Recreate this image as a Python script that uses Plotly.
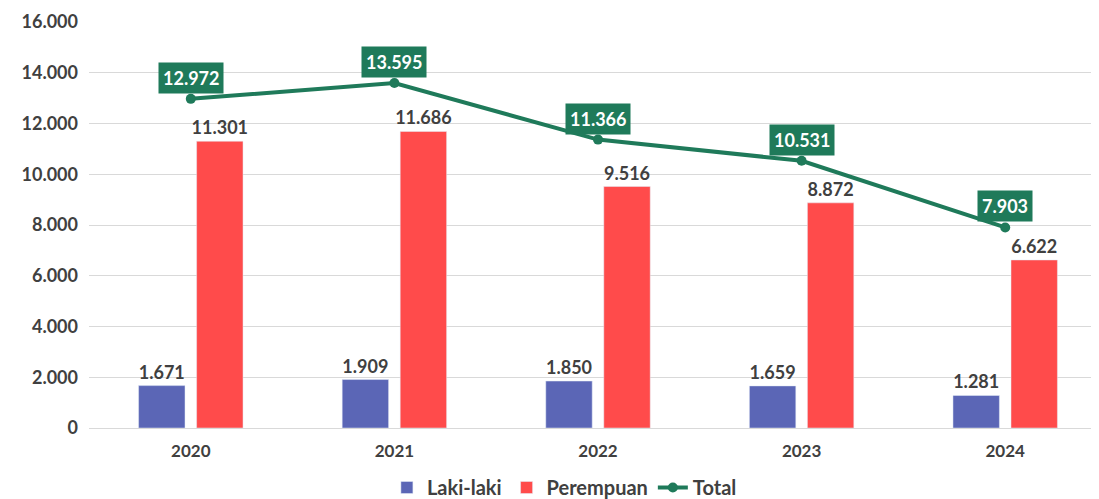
import plotly.graph_objects as go

years = ["2020", "2021", "2022", "2023", "2024"]
laki = [1671, 1909, 1850, 1659, 1281]
perempuan = [11301, 11686, 9516, 8872, 6622]
total = [12972, 13595, 11366, 10531, 7903]
y_ticks = [0, 2000, 4000, 6000, 8000, 10000, 12000, 14000, 16000]


def fmt(v):
    return f"{v:,}".replace(",", ".")


FONT = "Lato, 'Open Sans', sans-serif"
GREY = "#404040"
GREEN = "#1F7A5A"

fig = go.Figure()
fig.add_trace(go.Bar(
    x=years, y=laki, name="Laki-laki",
    marker_color="#5B66B6",
    text=[fmt(v) for v in laki], textposition="outside", constraintext="none",
    textfont=dict(size=18, color=GREY, family=FONT, weight="bold"),
    cliponaxis=False,
))
fig.add_trace(go.Bar(
    x=years, y=perempuan, name="Perempuan",
    marker_color="#FF4B4B",
    text=[fmt(v) for v in perempuan], textposition="outside", constraintext="none",
    textfont=dict(size=18, color=GREY, family=FONT, weight="bold"),
    cliponaxis=False,
))
fig.add_trace(go.Scatter(
    x=years, y=total, name="Total", mode="lines+markers",
    line=dict(color=GREEN, width=4),
    marker=dict(size=10, color=GREEN),
))

# labels of the total line
for i, v in enumerate(total):
    fig.add_annotation(
        x=i, y=v, xref="x", yref="y", text=f"<b>{fmt(v)}</b>", showarrow=False,
        yshift=21, bgcolor=GREEN, borderpad=4,
        font=dict(size=18, color="white", family=FONT),
    )

# page body adds an 8px offset, so margins are shifted by that amount
fig.update_layout(
    width=1099, height=499,
    margin=dict(l=81, r=0, t=14, b=78),
    paper_bgcolor="white", plot_bgcolor="white",
    barmode="group", bargap=0.43, bargroupgap=0.2,
    font=dict(family=FONT, color=GREY, size=15),
    legend=dict(
        orientation="h", x=0.467, xanchor="center", y=-0.147, yanchor="middle",
        font=dict(size=20, color=GREY, family=FONT, weight="bold"),
        itemwidth=30,
    ),
    xaxis=dict(
        type="category", automargin=False,
        range=[-0.5, 4.5], showgrid=False, showline=False, ticks="",
        tickfont=dict(size=17, color=GREY, family=FONT, weight="bold"),
        ticklabelstandoff=11,
    ),
    yaxis=dict(
        automargin=False,
        range=[0, 16000], tickvals=y_ticks,
        ticktext=[fmt(v) for v in y_ticks],
        showgrid=True, gridcolor="#D9D9D9", gridwidth=1,
        zeroline=True, zerolinecolor="#D9D9D9", zerolinewidth=1,
        tickfont=dict(size=18, color=GREY, family=FONT, weight="bold"),
        ticklabelstandoff=10,
    ),
)

fig.write_html("out.html")
